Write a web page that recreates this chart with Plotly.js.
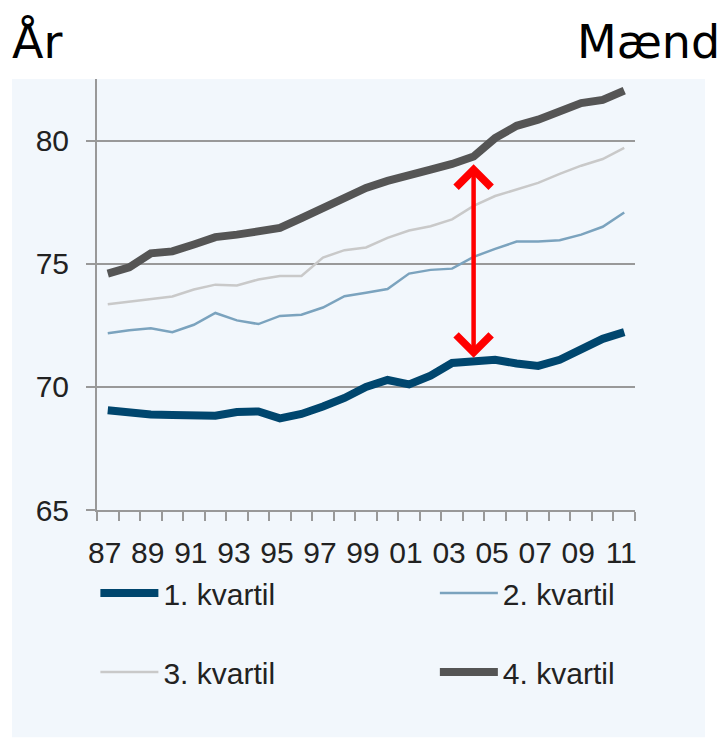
<!DOCTYPE html>
<html>
<head>
<meta charset="utf-8">
<script src="https://cdn.plot.ly/plotly-3.0.1.min.js"></script>
<style>html,body{margin:0;padding:0;background:#fff;}#chart{width:724px;height:738px;}</style>
</head>
<body>
<div id="chart"></div>
<script>
// Data (life expectancy, men, by income quartile)
var years = [1987,1988,1989,1990,1991,1992,1993,1994,1995,1996,1997,1998,1999,2000,2001,2002,2003,2004,2005,2006,2007,2008,2009,2010,2011];
var q1 = [69.05,68.95,68.88,68.86,68.84,68.83,68.98,69.0,68.72,68.9,69.2,69.55,70.0,70.28,70.1,70.45,70.97,71.03,71.1,70.95,70.85,71.1,71.55,71.95,72.22];
var q2 = [72.18,72.3,72.38,72.22,72.52,73.0,72.7,72.55,72.88,72.93,73.22,73.68,73.82,73.97,74.6,74.75,74.8,75.28,75.6,75.9,75.9,75.95,76.18,76.5,77.08];
var q3 = [73.35,73.45,73.54,73.67,73.95,74.15,74.12,74.36,74.5,74.5,75.25,75.55,75.66,76.05,76.35,76.52,76.8,77.35,77.75,78.0,78.28,78.65,78.98,79.25,79.7];
var q4 = [74.6,74.85,75.42,75.5,75.78,76.08,76.18,76.3,76.45,76.85,77.25,77.7,78.08,78.36,78.62,78.82,79.05,79.35,80.1,80.6,80.85,81.2,81.52,81.65,82.03];
var seriesNames = ["1. kvartil","2. kvartil","3. kvartil","4. kvartil"];
var tickYears = [1987,1989,1991,1993,1995,1997,1999,2001,2003,2005,2007,2009,2011];
var tickLabels = ["87","89","91","93","95","97","99","01","03","05","07","09","11"];
var yTicks = [65,70,75,80];
var arrowYear = 2004;

var font = "Liberation Sans, Arial, sans-serif";
var colors = ["#00466E","#7BA3BE","#C9C9C9","#555555"];
var widths = [8,2.5,2.5,8];
var allSeries = [q1,q2,q3,q4];
var legendIds = ["legend","legend2","legend3","legend4"];

var traces = allSeries.map(function(s,i){
  return {x: years, y: s, type: "scatter", mode: "lines", name: seriesNames[i],
    line: {color: colors[i], width: widths[i]}, legend: legendIds[i], hoverinfo: "skip"};
});

function leg(x, y){
  return {orientation: "h", x: x, xanchor: "left", y: y, yanchor: "middle", itemwidth: 58,
    bgcolor: "rgba(0,0,0,0)", font: {family: font, size: 30, color: "#222222"}};
}

var ai = years.indexOf(arrowYear);
var panel = "#F2F7FC";
var layout = {
  width: 724, height: 738,
  margin: {l: 97, r: 89, t: 79, b: 228},
  paper_bgcolor: "#ffffff",
  plot_bgcolor: panel,
  showlegend: true,
  font: {family: font, size: 30, color: "#222222"},
  xaxis: {
    range: [1986.5, 2011.5], tickmode: "array", tickvals: tickYears, ticktext: tickLabels,
    ticks: "", showgrid: false, zeroline: false, showline: true, linecolor: "#999999", linewidth: 2,
    ticklabelstandoff: 15, ticklabelshift: -3,
    tickfont: {family: font, size: 30, color: "#222222"},
    minor: {tick0: 1986.5, dtick: 1, ticks: "outside", ticklen: 9, tickcolor: "#999999", tickwidth: 2, showgrid: false}
  },
  yaxis: {
    range: [65, 82.5], tickmode: "array", tickvals: yTicks, ticks: "outside", ticklen: 9,
    tickcolor: "#999999", tickwidth: 2, showgrid: true, gridcolor: "#999999", gridwidth: 2,
    zeroline: false, showline: true, linecolor: "#999999", linewidth: 2,
    ticklabelstandoff: 11,
    tickfont: {family: font, size: 30, color: "#222222"}
  },
  legend: leg(-0.003, -0.1926),
  legend2: leg(0.628, -0.1926),
  legend3: leg(-0.003, -0.376),
  legend4: leg(0.628, -0.376),
  shapes: [{type: "rect", xref: "paper", yref: "paper", x0: -0.158, x1: 1.13, y0: -0.527, y1: 1.0,
    fillcolor: panel, line: {width: 0}, layer: "below"}],
  annotations: [
    {xref: "paper", yref: "paper", x: -0.162, y: 1.0, yshift: 8, xanchor: "left", yanchor: "bottom",
     text: "År", showarrow: false, font: {family: "DejaVu Sans", size: 46, color: "#000000"}},
    {xref: "paper", yref: "paper", x: 1.162, y: 1.0, yshift: 8, xanchor: "right", yanchor: "bottom",
     text: "Mænd", showarrow: false, font: {family: "DejaVu Sans", size: 46, color: "#000000"}},
    {xref: "x", yref: "y", axref: "x", ayref: "y", x: years[ai], y: q1[ai] + 0.15,
     ax: years[ai], ay: q4[ai] - 0.25, text: "", showarrow: true, arrowside: "end+start",
     arrowhead: 4, arrowsize: 1.5, arrowwidth: 4.5, arrowcolor: "#FF0000"}
  ]
};

Plotly.newPlot("chart", traces, layout, {displayModeBar: false, staticPlot: true});
</script>
</body>
</html>
